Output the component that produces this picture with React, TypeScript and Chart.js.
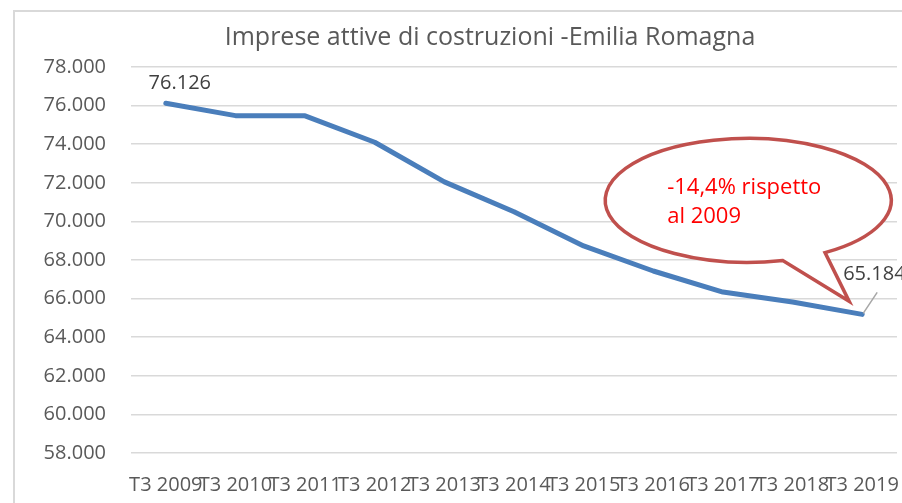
import React, { useEffect, useRef } from "react";
import { Chart, registerables } from "chart.js";

Chart.register(...registerables);

const TITLE = "Imprese attive di costruzioni -Emilia Romagna";
const CATEGORIES = [
  "T3 2009", "T3 2010", "T3 2011", "T3 2012", "T3 2013", "T3 2014",
  "T3 2015", "T3 2016", "T3 2017", "T3 2018", "T3 2019",
];
const VALUES = [76126, 75480, 75470, 74100, 72050, 70500, 68730, 67430, 66340, 65820, 65184];
const Y_MIN = 58000;
const Y_MAX = 78000;
const Y_STEP = 2000;
const CALLOUT_LINES = ["-14,4% rispetto", "al 2009"];

const FONT = "'Open Sans', 'DejaVu Sans', sans-serif";
const fmt = (v: number) => v.toLocaleString("de-DE");

const decorPlugin = {
  id: "decor",
  beforeDraw(chart: any) {
    const ctx = chart.ctx;
    ctx.save();
    ctx.fillStyle = "#ffffff";
    ctx.fillRect(0, 0, chart.width, chart.height);
    ctx.strokeStyle = "#D9D9D9";
    ctx.lineWidth = 2;
    ctx.beginPath();
    ctx.moveTo(14, chart.height);
    ctx.lineTo(14, 11);
    ctx.lineTo(chart.width, 11);
    ctx.stroke();
    // title
    ctx.fillStyle = "#595959";
    ctx.font = `25px ${FONT}`;
    ctx.textAlign = "center";
    ctx.textBaseline = "middle";
    ctx.fillText(TITLE, 490, 38);
    ctx.restore();
  },
  afterDatasetsDraw(chart: any) {
    const ctx = chart.ctx;
    const meta = chart.getDatasetMeta(0);
    const first = meta.data[0];
    const last = meta.data[meta.data.length - 1];
    ctx.save();
    // data labels
    ctx.font = `20px ${FONT}`;
    ctx.fillStyle = "#404040";
    ctx.textAlign = "center";
    ctx.textBaseline = "middle";
    ctx.fillText(fmt(VALUES[0]), first.x + 14, first.y - 20);
    ctx.textAlign = "left";
    ctx.fillText(fmt(VALUES[VALUES.length - 1]), last.x - 19, last.y - 40);
    // leader line
    ctx.strokeStyle = "#A6A6A6";
    ctx.lineWidth = 1.5;
    ctx.beginPath();
    ctx.moveTo(last.x + 1, last.y - 1);
    ctx.lineTo(last.x + 15, last.y - 22);
    ctx.stroke();

    // callout bubble
    const tipX = last.x - 13;
    const tipY = last.y - 13;
    const cx = tipX - 101;
    const cy = tipY - 101;
    const rx = 143;
    const ry = 62;
    const a1 = (76 * Math.PI) / 180;
    const a2 = (57.5 * Math.PI) / 180 + Math.PI * 2;
    ctx.beginPath();
    ctx.ellipse(cx, cy, rx, ry, 0, a1, a2, false);
    ctx.lineTo(tipX, tipY);
    ctx.closePath();
    ctx.fillStyle = "#ffffff";
    ctx.fill();
    ctx.strokeStyle = "#C0504D";
    ctx.lineWidth = 3.5;
    ctx.lineJoin = "miter";
    ctx.stroke();
    ctx.fillStyle = "#FF0000";
    ctx.font = `22px ${FONT}`;
    ctx.textAlign = "left";
    ctx.textBaseline = "middle";
    ctx.fillText(CALLOUT_LINES[0], cx - 81, cy - 13);
    ctx.fillText(CALLOUT_LINES[1], cx - 81, cy + 16);
    ctx.restore();
  },
};

export default function App() {
  const ref = useRef<HTMLCanvasElement | null>(null);
  useEffect(() => {
    if (!ref.current) return;
    const chart = new Chart(ref.current, {
      type: "line",
      data: {
        labels: CATEGORIES,
        datasets: [
          {
            data: VALUES,
            borderColor: "#4A7EBB",
            borderWidth: 5,
            pointRadius: 0,
            tension: 0,
            fill: false,
            borderCapStyle: "round",
            borderJoinStyle: "round",
          },
        ],
      },
      options: {
        responsive: false,
        animation: false,
        layout: { padding: { left: 0, right: 5, top: 67, bottom: 0 } },
        plugins: {
          legend: { display: false },
          title: { display: false },
          tooltip: { enabled: false },
        },
        scales: {
          x: {
            offset: true,
            grid: { display: false, drawTicks: false },
            border: { display: false },
            ticks: {
              autoSkip: false,
              maxRotation: 0,
              minRotation: 0,
              padding: 20,
              color: "#595959",
              font: { family: FONT, size: 20 },
            },
            afterFit(scale: any) {
              scale.height = 50;
              scale.paddingLeft = 0;
              scale.paddingRight = 0;
            },
          },
          y: {
            min: Y_MIN,
            max: Y_MAX,
            grid: { color: "#D9D9D9", lineWidth: 1.5, drawTicks: false },
            border: { display: false },
            ticks: {
              stepSize: Y_STEP,
              padding: 25,
              color: "#595959",
              font: { family: FONT, size: 20 },
              callback: (v: any) => fmt(Number(v)),
            },
            afterFit(scale: any) {
              scale.width = 131;
            },
          },
        },
      },
      plugins: [decorPlugin],
    });
    return () => chart.destroy();
  }, []);
  return (
    <div style={{ position: "absolute", left: 0, top: 0, width: 902, height: 503, background: "#fff" }}>
      <canvas ref={ref} width={902} height={503} style={{ display: "block" }} />
    </div>
  );
}
